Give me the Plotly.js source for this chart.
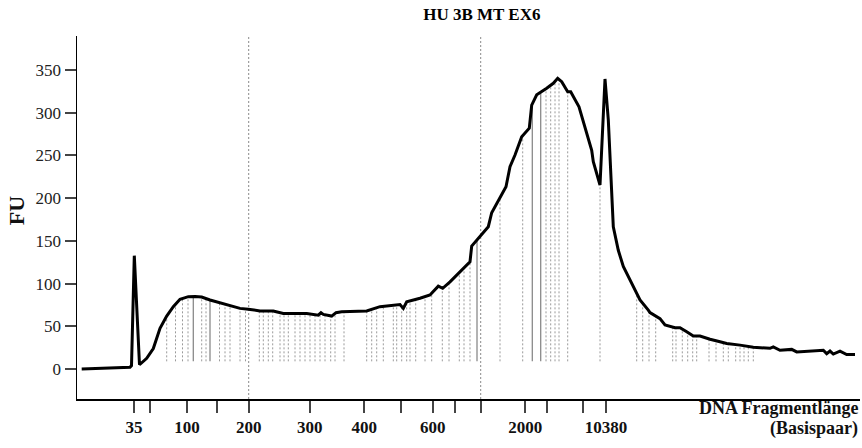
<!DOCTYPE html>
<html>
<head>
<meta charset="utf-8">
<script src="https://cdn.plot.ly/plotly-3.0.1.min.js"></script>
<style>html,body{margin:0;padding:0;background:#fff}#chart{width:862px;height:448px}</style>
</head>
<body>
<div id="chart"></div>
<script>
// Migration position (arbitrary units along the run) and fluorescence (FU)
const curvePos = [81.7,100,130,131.5,134.3,139.5,146.7,153.3,156.7,160,166.7,173.3,180,188.3,195,201.7,210,218,226.7,240,248.3,260,273.3,283.3,306.7,318.3,321,323.3,331.7,336,341.7,366.7,380,396.7,400,403.3,406.7,420,430,438.3,442.7,450,460,470,471.7,480,488.3,491.7,500,506,510,515,521.7,529.3,531.7,536.7,546.7,553.3,557.7,561.7,567.7,570.7,579,585,591.7,593.3,600,605,608.3,613.3,618.3,623.3,630,636.7,640,648.3,650,660,665,675,680,686.7,693.3,700,710,720,726.7,740,753.3,770,773.3,780,791.7,796.7,820,823.3,826.7,830,833.3,840,846.7,855];
const curveFU = [0,1,2,4,132.7,5,12.5,24,35,47.6,62,73,81.6,84.7,85,84.3,80.8,78,75.7,71,70,68,68,65,65,63,66,64,62,66,67,68,73,75.7,75.5,71,78.8,82.8,86.6,97,94.5,102,114,125.6,144,155,166.6,183,200,213.5,237,250.6,272,282,309,321,328.7,334.5,340.4,336.4,324.7,324.7,307,282,256,242.7,215.5,339.6,291.6,166.6,139,120,104,89,81,69,66,59,51.5,48.4,48.4,43.7,38.6,38.6,34.8,32,30,28,25.4,24.2,26,22,23,20,21,22,18,21,17.5,21,17,17];

// Fragment markers (dashed) and highlighted fragments (solid)
const fragDashedPos = [166.7,175.5,182.5,188,201.7,206,219.5,225,230,240,245.5,259.3,263.3,268.3,272.7,280,284,288.3,295,300,305,310,315,320,325,330.7,335,344,366.7,371.7,376.7,383.3,393.3,396.7,401.7,406.7,410,415.7,425,431.7,442.3,449,459.3,464,470,500,522.7,546,550.7,555,559,567.7,600,636.7,642.7,649,655.7,672.7,676,682.3,687.7,692.7,696.7,709,716,723.3,728.3,735.7,740,744,748.3,753.3];
const fragSolidPos = [193.3,210,477,532.3,540.7];
const fragBaseFU = 9;

// Size ladder ticks (bp)
const tickPos  = [134,150,187,217,248.7,309.7,364.3,401.3,432.7,455,480.7,525.3,546.7,583,606];
const tickText = ['35','','100','','200','300','400','','600','','','2000','','','10380'];
const yTicks = [0,50,100,150,200,250,300,350];

// Full-height reference lines
const refLinePos = [248.7,480.7];

const chartTitle = 'HU 3B MT EX6';
const xTitleLines = ['DNA Fragmentlänge','(Basispaar)'];
const yTitle = 'FU';

function interp(x){
  for(let i=0;i<curvePos.length-1;i++){
    if(x>=curvePos[i] && x<=curvePos[i+1]){
      const t=(x-curvePos[i])/(curvePos[i+1]-curvePos[i]);
      return curveFU[i]+t*(curveFU[i+1]-curveFU[i]);
    }
  }
  return curveFU[curveFU.length-1];
}
function drops(arr){
  const xs=[],ys=[];
  arr.forEach(p=>{xs.push(p,p,null);ys.push(fragBaseFU,interp(p),null);});
  return {xs,ys};
}
const dd=drops(fragDashedPos), ds=drops(fragSolidPos);
const serif='"Liberation Serif", "Times New Roman", serif';

const traces=[
  {x:dd.xs,y:dd.ys,mode:'lines',line:{color:'#9a9a9a',width:1,dash:'2px,2px'},hoverinfo:'skip',showlegend:false},
  {x:ds.xs,y:ds.ys,mode:'lines',line:{color:'#8a8a8a',width:1.3},hoverinfo:'skip',showlegend:false},
  {x:curvePos,y:curveFU,mode:'lines',line:{color:'#000',width:3},showlegend:false}
];

const layout={
  width:862,height:448,
  margin:{l:77,r:2,t:36,b:49},
  paper_bgcolor:'#fff',plot_bgcolor:'#fff',
  showlegend:false,
  title:{text:chartTitle,font:{family:serif,size:17,weight:'bold',color:'#000'},x:0.517,xref:'paper',xanchor:'center',y:0.968,yref:'container',yanchor:'middle'},
  xaxis:{range:[77,860],showgrid:false,zeroline:false,showline:true,linecolor:'#000',linewidth:1.5,
    ticks:'outside',ticklen:12,tickwidth:2,tickcolor:'#444',tickmode:'array',tickvals:tickPos,ticktext:tickText,
    tickfont:{family:serif,size:17,weight:'bold',color:'#111'},fixedrange:true},
  yaxis:{range:[-35.1,389.9],showgrid:false,zeroline:false,showline:true,linecolor:'#000',linewidth:1.5,
    ticks:'outside',ticklen:11,tickwidth:2,tickcolor:'#444',tickmode:'array',tickvals:yTicks,
    tickfont:{family:serif,size:17,color:'#222'},fixedrange:true},
  shapes:refLinePos.map(p=>({type:'line',xref:'x',yref:'paper',x0:p,x1:p,y0:0,y1:1,layer:'below',line:{color:'#8a8a8a',width:1,dash:'2px,2px'}})),
  annotations:[
    {text:xTitleLines[0],xref:'paper',yref:'paper',x:0.9995,y:-0.025,xanchor:'right',yanchor:'middle',showarrow:false,
     font:{family:serif,size:18,weight:'bold',color:'#111'}},
    {text:xTitleLines[1],xref:'paper',yref:'paper',x:0.9995,y:-0.08,xanchor:'right',yanchor:'middle',showarrow:false,
     font:{family:serif,size:18,weight:'bold',color:'#111'}},
    {text:yTitle,xref:'paper',yref:'paper',x:-0.078,y:0.52,xanchor:'center',yanchor:'middle',textangle:-90,showarrow:false,
     font:{family:serif,size:22,weight:'bold',color:'#111'}}
  ]
};
Plotly.newPlot('chart',traces,layout,{displayModeBar:false,staticPlot:true});
</script>
</body>
</html>
